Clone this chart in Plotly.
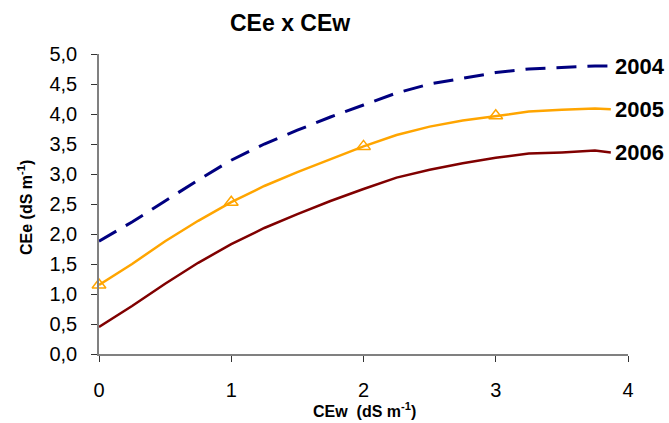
import plotly.graph_objects as go

x = [0, 0.25, 0.5, 0.75, 1, 1.25, 1.5, 1.75, 2, 2.25, 2.5, 2.75, 3, 3.25, 3.5, 3.75, 3.87]
y2004 = [1.88, 2.2, 2.55, 2.9, 3.23, 3.5, 3.73, 3.95, 4.15, 4.35, 4.5, 4.6, 4.69, 4.75, 4.78, 4.8, 4.8]
y2005 = [1.15, 1.5, 1.88, 2.22, 2.53, 2.8, 3.03, 3.25, 3.46, 3.65, 3.79, 3.89, 3.97, 4.04, 4.07, 4.09, 4.08]
y2006 = [0.45, 0.8, 1.17, 1.52, 1.83, 2.1, 2.33, 2.55, 2.75, 2.94, 3.07, 3.18, 3.27, 3.34, 3.36, 3.39, 3.36]
mx2005 = [0, 1, 2, 3]
my2005 = [1.15, 2.53, 3.46, 3.97]
labels = ["2004", "2005", "2006"]
x_ticks = [0, 1, 2, 3, 4]
font = "Liberation Sans, Arial, sans-serif"

fig = go.Figure()
fig.add_trace(go.Scatter(x=x, y=y2004, mode="lines", line=dict(color="#000080", width=3, dash="20px,11px")))
fig.add_trace(go.Scatter(x=x, y=y2005, mode="lines", line=dict(color="#FFA500", width=2.5)))
fig.add_trace(go.Scatter(x=mx2005, y=my2005, mode="markers", cliponaxis=False,
                         marker=dict(symbol="triangle-up-open", size=12, color="#FFA500", line=dict(width=1.5))))
fig.add_trace(go.Scatter(x=x, y=y2006, mode="lines", line=dict(color="#800000", width=2.5)))

ends = [y2004[-1], y2005[-1], y2006[-1]]
for lab, yv in zip(labels, ends):
    fig.add_annotation(x=x[-1], xref="x", y=yv, yref="y", text=f"<b>{lab}</b>", showarrow=False,
                       xanchor="left", yanchor="middle", xshift=2,
                       font=dict(size=22, color="black", family=font))

# title
fig.add_annotation(x=(290 - 99) / 529, xref="paper", y=1 + (54 - 23) / 300, yref="paper",
                   text="<b>CEe x CEw</b>", showarrow=False, xanchor="center", yanchor="middle",
                   font=dict(size=23, color="black", family=font))
# axis titles
fig.add_annotation(x=0.501, xref="paper", y=-(410 - 354) / 300, yref="paper",
                   text="<b>CEw  (dS m<sup>-1</sup>)</b>", showarrow=False, xanchor="center", yanchor="middle",
                   font=dict(size=16, color="black", family=font))
fig.add_annotation(x=-(99 - 25) / 529, xref="paper", y=(354 - 208) / 300, yref="paper", textangle=-90,
                   text="<b>CEe (dS m<sup>-1</sup>)</b>", showarrow=False, xanchor="center", yanchor="middle",
                   font=dict(size=16, color="black", family=font))

fig.update_layout(
    width=669, height=423,
    margin=dict(l=99, r=41, t=54, b=69, autoexpand=False),
    paper_bgcolor="white", plot_bgcolor="white",
    showlegend=False,
    separators=",.",
    font=dict(family=font, color="black"),
    xaxis=dict(range=[0, 4], tickvals=x_ticks, showline=True, linecolor="#808080", linewidth=1.5,
               ticks="outside", ticklen=6, tickcolor="#333", showgrid=False, zeroline=False,
               automargin=False, ticklabelstandoff=11, tickfont=dict(size=20)),
    yaxis=dict(range=[0, 5], dtick=0.5, tickformat=".1f", showline=True, linecolor="#808080", linewidth=1.5,
               ticks="outside", ticklen=6, tickcolor="#333", showgrid=False, zeroline=False,
               automargin=False, ticklabelstandoff=10, tickfont=dict(size=20)),
)
# remove the browser's default 8px page margin so the 669x423 figure fills the window exactly
fig.write_html("out.html", config={"displayModeBar": False},
               post_script="document.body.style.margin='0';document.body.style.overflow='hidden';")
